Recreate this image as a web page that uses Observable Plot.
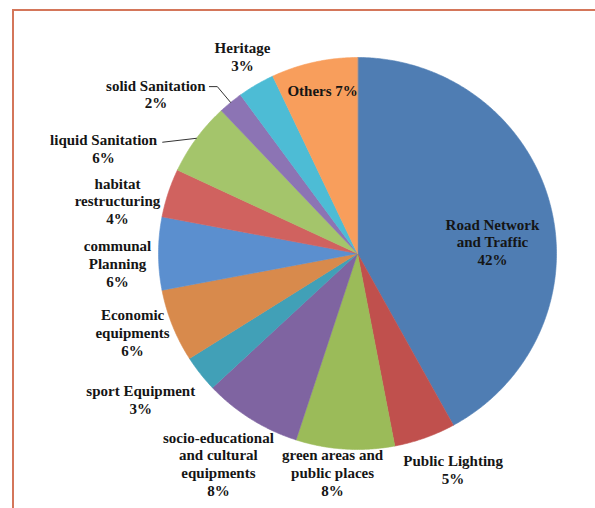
<!DOCTYPE html>
<html>
<head>
<meta charset="utf-8">
<script src="https://cdn.jsdelivr.net/npm/d3@7"></script>
<script src="https://cdn.jsdelivr.net/npm/@observablehq/plot@0.6"></script>
<style>
  html, body { margin: 0; padding: 0; background: #fff; }
  #wrap { position: relative; width: 595px; height: 508px; overflow: hidden; }
  #frame { position: absolute; left: 12px; top: 9px; right: -10px; bottom: -10px;
           border-left: 2px solid #D4765A; border-top: 2px solid #D4765A; }
  #chart { position: absolute; left: 0; top: 0; }
  #chart text { font-family: "Liberation Serif", "Times New Roman", "DejaVu Serif", serif; }
</style>
</head>
<body>
<div id="wrap"><div id="frame"></div><div id="chart"></div></div>
<script>
// ---- data ----
const categories = [
  "Road Network\nand Traffic", "Public Lighting", "green areas and\npublic places",
  "socio-educational\nand cultural\nequipments", "sport Equipment", "Economic\nequipments",
  "communal\nPlanning", "habitat\nrestructuring", "liquid Sanitation", "solid Sanitation",
  "Heritage", "Others"
];
const values = [42, 5, 8, 8, 3, 6, 6, 4, 6, 2, 3, 7];
const colors = [
  "#4F7DB3", "#C0504D", "#9BBB59", "#7F64A1", "#41A0B7", "#D88A4C",
  "#5B8FCF", "#D0625F", "#A4C56B", "#8C74B4", "#4DBCD5", "#F89E5C"
];

// ---- layout (label placement, polar: radius factor and angle offset in degrees) ----
const labelRadius = [0.681, 1.20, 1.124, 1.28, 1.32, 1.20, 1.207, 1.236, 1.384, 1.30, 1.159, 0.85];
const labelAngleOffset = [9.3, -3.8, 2.8, 0.7, 3.4, 2.0, -2.4, -5.4, -13.2, -11.6, 0.7, 0.7];
const labelJoin = ["\n", "\n", "\n", "\n", "\n", "\n", "\n", "\n", "\n", "\n", "\n", " "];
const leaders = [ // index, elbow radius, horizontal run (data units), vertical shift
  {i: 8, elbow: 1.0, run: 0.17, drop: -0.02},
  {i: 9, elbow: 1.105, run: 0.04, drop: 0}
];

const cx = 357, cy = 253, rx = 199, ry = 196;
const total = d3.sum(values);
const rad = a => a * Math.PI / 180;
const polar = (deg, k) => [k * Math.sin(rad(deg)), k * Math.cos(rad(deg))];

// slices
let cum = 0;
const slices = values.map((v, i) => {
  const a0 = cum / total * 360;
  cum += v;
  const a1 = cum / total * 360;
  const pts = [[0, 0]];
  for (let a = a0; a < a1; a += 0.5) pts.push(polar(a, 1));
  pts.push(polar(a1, 1));
  return {i, a0, a1, mid: (a0 + a1) / 2, pts};
});

const labels = slices.map(s => {
  const [x, y] = polar(s.mid + labelAngleOffset[s.i], labelRadius[s.i]);
  return {x, y, text: categories[s.i] + labelJoin[s.i] + values[s.i] + "%"};
});

const leaderLines = leaders.map(L => {
  const s = slices[L.i];
  const p0 = polar(s.mid, 1);
  const p1 = polar(s.mid, L.elbow);
  const p2 = [p1[0] - L.run, p1[1] + L.drop];
  return [p0, p1, p2];
});

const marks = [
  ...slices.map(s => Plot.line(s.pts, {
    x: d => d[0], y: d => d[1], fill: colors[s.i], stroke: colors[s.i], strokeWidth: 0.6,
    strokeLinejoin: "round", curve: "linear-closed"
  })),
  ...leaderLines.map(pts => Plot.line(pts, {
    x: d => d[0], y: d => d[1], stroke: "#333", strokeWidth: 1
  })),
  Plot.text(labels, {
    x: "x", y: "y", text: "text", fontFamily: "Liberation Serif", fontWeight: "bold",
    fontSize: 15, lineHeight: 1.18, lineAnchor: "middle", textAnchor: "middle", fill: "#151515"
  })
];

const chart = Plot.plot({
  width: 595, height: 508, margin: 0,
  x: {domain: [-1, 1], range: [cx - rx, cx + rx], axis: null},
  y: {domain: [-1, 1], range: [cy + ry, cy - ry], axis: null},
  style: {background: "transparent", overflow: "visible", fontFamily: "Liberation Serif"},
  marks
});
document.getElementById("chart").appendChild(chart);
</script>
</body>
</html>
